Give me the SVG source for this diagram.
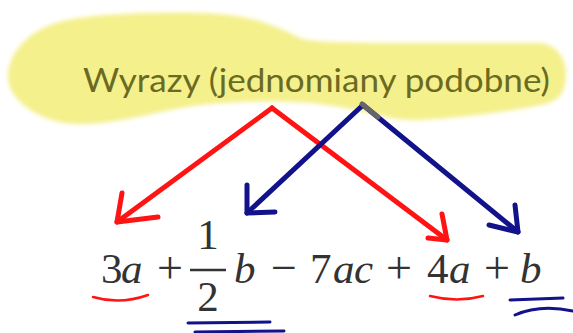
<svg xmlns="http://www.w3.org/2000/svg" width="573" height="333" viewBox="0 0 573 333">
<defs>
<filter id="soft" x="-5%" y="-10%" width="110%" height="120%"><feGaussianBlur stdDeviation="2"/></filter>
<style>
.hl{fill:#f4f08c;filter:url(#soft)}
.title{font-family:Lato,"Open Sans",sans-serif;font-size:33px;fill:#6b6a22}
.m{font-family:"Liberation Serif",serif;font-size:43px;fill:#333}
.op{font-size:46px}
.i{font-style:italic}
.r{fill:none;stroke:#ff1414;stroke-width:5;stroke-linecap:round;stroke-linejoin:round}
.b{fill:none;stroke:#12128a;stroke-width:5;stroke-linecap:round;stroke-linejoin:round}
.ur{fill:none;stroke:#ff1414;stroke-width:2.5;stroke-linecap:round}
.ub{fill:none;stroke:#12128a;stroke-width:3;stroke-linecap:round}
</style>
</defs>
<rect width="573" height="333" fill="#fff"/>
<g id="label">
<path class="hl" d="M8 77 C8 55 25 35 50 25 C80 14 140 12 200 13 C250 14 275 25 300 38 C310 42 330 42 373 43 L540 43 C558 45 567 60 566 77 C565 92 560 100 545 104 C520 110 460 118 420 120 C390 121 370 112 340 107 C300 100 250 100 200 105 C160 110 120 124 80 124 C40 124 8 100 8 77 Z"/>
<text class="title" x="83" y="92" textLength="467" lengthAdjust="spacingAndGlyphs">Wyrazy (jednomiany podobne)</text>
</g>
<g id="connectors">
<path class="r" d="M272 108 L117 222"/>
<path class="r" d="M122 193 L117 222 L158 217"/>
<path class="r" d="M272 108 L447 240"/>
<path class="r" d="M442 214 L447 240 L428 238"/>
<path class="b" d="M363 105 L247 213"/>
<path class="b" d="M247 185 L247 213 L275 212"/>
<path class="b" d="M363 105 L518 232"/>
<path class="b" d="M515 205 L518 232 L489 225"/>
<path d="M362 104 L378 117" stroke="#666" stroke-width="5" stroke-linecap="round"/>
</g>
<g id="expression">
<text class="m" y="283"><tspan x="101">3</tspan><tspan class="i" x="121">a</tspan></text>
<text class="m op" x="170" y="283" text-anchor="middle">+</text>
<text class="m" x="208" y="249" text-anchor="middle" font-size="40">1</text>
<line x1="190" y1="270" x2="226" y2="270" stroke="#333" stroke-width="2.5"/>
<text class="m" x="208" y="311" text-anchor="middle" font-size="40">2</text>
<text class="m i" x="234" y="283">b</text>
<text class="m op" x="284" y="283" text-anchor="middle">−</text>
<text class="m" y="283"><tspan x="310">7</tspan><tspan class="i" x="333">a</tspan><tspan class="i" x="354">c</tspan></text>
<text class="m op" x="399" y="283" text-anchor="middle">+</text>
<text class="m" y="283"><tspan x="427">4</tspan><tspan class="i" x="449">a</tspan></text>
<text class="m op" x="497" y="283" text-anchor="middle">+</text>
<text class="m i" x="520" y="283">b</text>
</g>
<g id="underlines">
<path class="ur" d="M93 297 Q120 305 148 295"/>
<path class="ur" d="M430 296 Q457 303 483 296"/>
<path class="ub" d="M188 323 L270 322"/>
<path class="ub" d="M195 332 L284 331"/>
<path class="ub" d="M510 300 L563 298"/>
<path class="ub" d="M515 315 Q540 304 573 311"/>
</g>
</svg>
